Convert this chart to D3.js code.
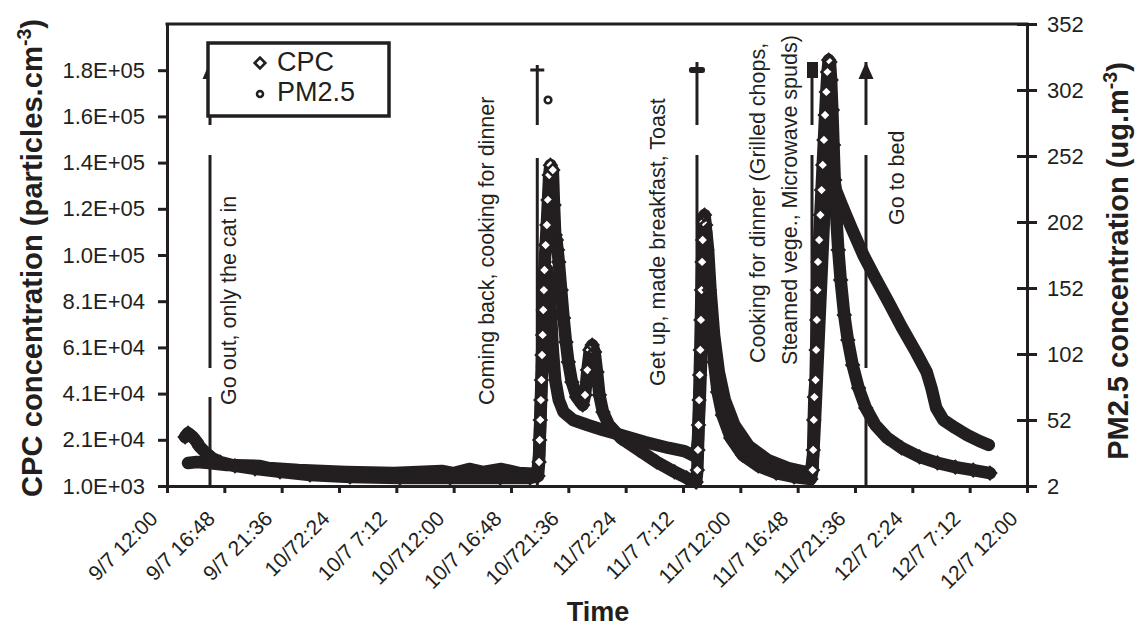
<!DOCTYPE html>
<html>
<head>
<meta charset="utf-8">
<script src="https://cdnjs.cloudflare.com/ajax/libs/d3/7.8.5/d3.min.js"></script>
<style>
body { margin: 0; background: #fff; }
text { font-family: Arial, "Liberation Sans", sans-serif; fill: #231f20; }
</style>
</head>
<body>
<svg id="graph"></svg>
<script>
const width = 1136;
const height = 628;

// time is hours after 9/7 12:00
const timeTicks = [0, 4.8, 9.6, 14.4, 19.2, 24, 28.8, 33.6, 38.4, 43.2, 48, 52.8, 57.6, 62.4, 67.2, 72];
const timeTickLabels = ["9/7 12:00", "9/7 16:48", "9/7 21:36", "10/72:24", "10/7 7:12", "10/712:00",
        "10/7 16:48", "10/721:36", "11/72:24", "11/7 7:12", "11/712:00", "11/7 16:48", "11/721:36",
        "12/7 2:24", "12/7 7:12", "12/7 12:00"];
const cpcTicks = [1000, 21000, 41000, 61000, 81000, 101000, 121000, 141000, 161000, 181000];
const cpcTickLabels = ["1.0E+03", "2.1E+04", "4.1E+04", "6.1E+04", "8.1E+04", "1.0E+05", "1.2E+05", "1.4E+05", "1.6E+05", "1.8E+05"];
const pmTicks = [2, 52, 102, 152, 202, 252, 302, 352];

// CPC (particles/cm3)
const cpcTime = [1.51, 1.76, 2.09, 2.43, 2.76, 3.18, 3.77, 4.44, 5.69, 7.37, 9.46, 11.97, 15.32, 19.5, 23.7, 27.9, 30.4, 31.06,
        31.15, 31.2, 31.25, 31.3, 31.35, 31.4, 31.45, 31.5, 31.55, 31.6, 31.7, 31.8, 31.9, 32.0, 32.1, 32.2, 32.3, 32.4, 32.5, 32.6,
        32.7, 32.8, 33.0, 33.2, 33.4, 33.6, 33.9, 34.3, 34.8,
        35.0, 35.2, 35.4, 35.6, 35.8, 36.0, 36.2, 36.5, 37.0, 38.0, 39.5, 41.0, 42.5, 43.5, 44.3,
        44.4, 44.45, 44.5, 44.55, 44.6, 44.65, 44.7, 44.75, 44.8, 44.85, 44.9, 45.0, 45.1, 45.2, 45.4, 45.6, 45.8, 46.1, 46.5,
        47.2, 48.2, 49.5, 51.0, 52.5, 53.9,
        54.05, 54.1, 54.15, 54.2, 54.3, 54.35, 54.4, 54.45, 54.5, 54.6, 54.7, 54.8, 54.9, 55.0, 55.1, 55.2, 55.3, 55.4, 55.5,
        55.6, 55.7, 55.8, 55.9, 56.0, 56.2, 56.4, 56.7, 57.0, 57.4, 57.9, 58.5, 59.3, 60.3, 61.5, 63.0, 64.5, 66.0, 67.5, 68.9];
const cpcConc = [22200, 23900, 22600, 20500, 17900, 15700, 13100, 11400, 9700, 8400, 7100, 5800, 4900, 4500, 4500, 4500, 4500, 5300,
        11400, 20900, 29600, 38200, 46900, 57700, 66400, 77200, 85800, 94500, 105300, 114000, 124800, 135600, 139900, 131300, 137800, 122600, 109700, 107500,
        103200, 98000, 85800, 73700, 63300, 54700, 46000, 39500, 36100,
        40400, 51200, 59900, 62000, 59000, 50400, 40400, 33000, 27400, 21800, 16600, 11400, 7100, 4500, 2700,
        7900, 16600, 27400, 38200, 49100, 59900, 72900, 85800, 98000, 107500, 115300, 118300, 114000, 103200, 85800, 68500, 54700, 41700, 31700,
        21800, 14400, 9700, 6600, 4900, 4000,
        7900, 16600, 29600, 39500, 46900, 59900, 72900, 85800, 98000, 107500, 118300, 129100, 140000, 150800, 161600, 171600, 180200, 185400, 184500,
        176800, 163800, 148600, 133500, 120500, 103200, 90200, 75000, 64200, 53400, 43400, 34800, 27400, 21800, 17500, 13600, 11000, 9200, 7900, 6600];

// PM2.5 (ug/m3)
const pmTime = [1.76, 2.5, 3.5, 5.0, 7.8, 8.5, 11, 15, 19, 23, 24, 25.3, 26.5, 28, 29.5, 31.0,
        31.15, 31.25, 31.35, 31.45, 31.55, 31.65, 31.75, 31.85, 32.0, 32.15, 32.3, 32.5, 32.8, 33.2, 34.0, 35.2, 36.5, 38.0, 40.0, 42.0, 43.3, 44.3,
        44.45, 44.6, 44.75, 44.9, 45.05, 45.15, 45.3, 45.5, 45.8, 46.2, 46.7, 47.5, 48.7, 50.3, 52.0, 53.9,
        54.1, 54.25, 54.4, 54.55, 54.7, 54.85, 55.0, 55.15, 55.3, 55.5, 55.7, 56.0, 56.5, 57.3, 58.3, 59.3, 60.4, 61.5, 62.7,
        63.6, 64.0, 64.4, 65.0, 66.0, 67.0, 68.0, 68.8];
const pmConc = [19.4, 20.2, 19.4, 17.9, 17.2, 15.6, 14.1, 12.6, 11.8, 13.4, 11.8, 14.9, 12.6, 14.9, 11.8, 11.1,
        25.5, 48.2, 74.7, 105.0, 131.6, 150.5, 161.9, 165.6, 154.3, 131.6, 105.0, 82.3, 67.2, 58.1, 52.0, 48.2, 44.4, 40.6, 35.3, 30.8, 28.5, 24.0,
        36.8, 67.2, 105.0, 142.9, 171.7, 194.4, 180.8, 150.5, 116.4, 88.4, 67.2, 48.2, 32.3, 21.7, 15.6, 11.8,
        25.5, 52.0, 82.3, 112.6, 142.9, 173.2, 203.5, 230.0, 249.0, 252.8, 241.4, 226.2, 214.9, 197.5, 177.0, 159.6, 141.4, 122.5, 103.5,
        88.4, 76.2, 61.1, 52.0, 46.0, 40.6, 36.1, 33.1];
const pmOutlierTime = [31.9];
const pmOutlierConc = [294.4];

// activity notes: line time, text, text time, text level (CPC)
const eventTimes = [3.6, 31.0, 44.37, 54.0, 58.52];
const noteTexts = ["Go out, only the cat in", "Coming back, cooking for dinner", "Get up, made breakfast, Toast",
        "Cooking for dinner (Grilled chops,", "Steamed vege., Microwave spuds)", "Go to bed"];
const noteTimes = [5.78, 27.38, 41.7, 50.07, 52.75, 61.7];
const noteLevels = [36100, 36100, 44300, 54200, 53400, 114000];

////////////// layout
const ml = 167, mr = 1027, mt = 24, mb = 486;
const ink = "#231f20";

let svg = d3.select('#graph')
        .attr('width', width)
        .attr('height', height)
        .style('background-color', 'white');
let screen = svg.append("g");

let x = d3.scaleLinear().domain([0, 72]).range([ml, mr]);
let yCpc = d3.scaleLinear().domain([1000, 201000]).range([mb, mt]);
let yPm = d3.scaleLinear().domain([2, 352]).range([mb, mt]);

//////////////// event arrows (drawn first, data goes over them)
const heads = ["arrow", "cross", "bar", "block", "arrow"];
const pieces = [[62, 125], [155, 368], [397, mb]];
eventTimes.forEach((t, i) => {
        let ex = x(t);
        pieces.forEach(p => {
                screen.append("line")
                        .attr("x1", ex).attr("x2", ex)
                        .attr("y1", p[0] + (i == 1 ? 3 : 0)).attr("y2", p[1])
                        .style("stroke", ink).style("stroke-width", 3);
        });
        if (heads[i] === "arrow") {
                screen.append("path")
                        .attr("d", `M${ex},62 L${ex + 7.5},79 L${ex - 7.5},79 Z`)
                        .style("fill", ink);
        } else if (heads[i] === "cross") {
                screen.append("rect").attr("x", ex - 7).attr("y", 68.5).attr("width", 14).attr("height", 3).style("fill", ink);
        } else if (heads[i] === "bar") {
                screen.append("rect").attr("x", ex - 8).attr("y", 67).attr("width", 16).attr("height", 6).attr("rx", 2.5).style("fill", ink);
        } else {
                screen.append("rect").attr("x", ex - 5).attr("y", 62).attr("width", 11).attr("height", 16).style("fill", ink);
        }
});

//////////////// series
// dense runs of markers merge into a solid band; on the steep climbs the single markers still show
function drawSeries(times, vals, yScale, kind, band) {
        let pts = times.map((t, i) => ({t: t, v: vals[i]}));
        if (band) {
                let line = d3.line().x(d => x(d.t)).y(d => yScale(d.v));
                screen.append("path")
                        .datum(pts)
                        .attr("d", line)
                        .attr("fill", "none")
                        .attr("stroke", ink)
                        .attr("stroke-width", 12.5)
                        .attr("stroke-linejoin", "round")
                        .attr("stroke-linecap", "round");
        }
        let sym = kind === "diamond" ? d3.symbol(d3.symbolSquare, 72) : d3.symbol(d3.symbolCircle, 34);
        screen.selectAll(null)
                .data(pts)
                .enter()
                .append("path")
                .attr("d", sym)
                .attr("transform", d => `translate(${x(d.t)},${yScale(d.v)})` + (kind === "diamond" ? " rotate(45)" : ""))
                .attr("fill", (d, i) => {
                        if (!band) return "white";
                        let climb = i > 0 ? yScale(pts[i - 1].v) - yScale(d.v) : 0;
                        return climb > 8 ? "white" : "none";
                })
                .attr("stroke", ink)
                .attr("stroke-width", 2.6);
}
drawSeries(pmTime, pmConc, yPm, "circle", true);
drawSeries(cpcTime, cpcConc, yCpc, "diamond", true);
drawSeries(pmOutlierTime, pmOutlierConc, yPm, "circle", false);

//////////////// axes
let leftAxis = d3.axisLeft(yCpc).tickValues(cpcTicks).tickFormat((d, i) => cpcTickLabels[i])
        .tickSize(9).tickSizeOuter(0).tickPadding(13);
let gl = screen.append("g").attr("transform", `translate(${ml},0)`).call(leftAxis);

let rightAxis = d3.axisRight(yPm).tickValues(pmTicks).tickSize(10).tickSizeOuter(0).tickPadding(10);
let gr = screen.append("g").attr("transform", `translate(${mr},0)`).call(rightAxis);
gr.selectAll(".tick line").attr("x1", -10);

let bottomAxis = d3.axisBottom(x).tickValues(timeTicks).tickFormat("").tickSize(7).tickSizeOuter(0);
let gb = screen.append("g").attr("transform", `translate(0,${mb})`).call(bottomAxis);

[gl, gr, gb].forEach(g => {
        g.select(".domain").style("stroke", ink).style("stroke-width", 3);
        g.selectAll(".tick line").style("stroke", ink).style("stroke-width", 3);
        g.selectAll("text").style("font-size", "22px").style("font-family", "Arial, 'Liberation Sans', sans-serif").attr("fill", ink);
});

screen.append("line")
        .attr("x1", ml - 1.5).attr("x2", mr + 1.5)
        .attr("y1", mt).attr("y2", mt)
        .style("stroke", ink).style("stroke-width", 3);

screen.selectAll(".tlab")
        .data(timeTicks)
        .enter()
        .append("text")
        .attr("class", "tlab")
        .attr("text-anchor", "end")
        .attr("transform", d => `translate(${x(d) - 8},${mb + 34}) rotate(-45)`)
        .style("font-size", "21px")
        .text((d, i) => timeTickLabels[i]);

//////////////// titles
screen.append("text")
        .attr("x", 598).attr("y", 621)
        .attr("text-anchor", "middle")
        .style("font-size", "27px").style("font-weight", "bold")
        .text("Time");

let tl = screen.append("text")
        .attr("transform", "translate(42,258) rotate(-90)")
        .attr("text-anchor", "middle")
        .style("font-size", "29.2px").style("font-weight", "bold");
tl.append("tspan").text("CPC concentration (particles.cm");
tl.append("tspan").attr("dy", -11).style("font-size", "19.5px").text("-3");
tl.append("tspan").attr("dy", 11).text(")");

let tr = screen.append("text")
        .attr("transform", "translate(1128,261) rotate(-90)")
        .attr("text-anchor", "middle")
        .style("font-size", "29px").style("font-weight", "bold");
tr.append("tspan").text("PM2.5 concentration (ug.m");
tr.append("tspan").attr("dy", -11).style("font-size", "19.5px").text("-3");
tr.append("tspan").attr("dy", 11).text(")");

//////////////// notes
noteTexts.forEach((s, i) => {
        screen.append("text")
                .attr("transform", `translate(${x(noteTimes[i])},${yCpc(noteLevels[i])}) rotate(-90)`)
                .style("font-size", "21.5px")
                .text(s);
});

//////////////// legend
let legend = screen.append("g");
legend.append("rect")
        .attr("x", 208).attr("y", 43)
        .attr("width", 181).attr("height", 73)
        .style("fill", "white").style("stroke", ink).style("stroke-width", 3.5);
legend.append("path")
        .attr("d", d3.symbol(d3.symbolSquare, 56))
        .attr("transform", "translate(260,63) rotate(45)")
        .attr("fill", "white").attr("stroke", ink).attr("stroke-width", 2.6);
legend.append("path")
        .attr("d", d3.symbol(d3.symbolCircle, 28))
        .attr("transform", "translate(260,94)")
        .attr("fill", "white").attr("stroke", ink).attr("stroke-width", 2.6);
legend.append("text").attr("x", 277).attr("y", 71).style("font-size", "27px").text("CPC");
legend.append("text").attr("x", 277).attr("y", 101).style("font-size", "27px").text("PM2.5");
</script>
</body>
</html>
